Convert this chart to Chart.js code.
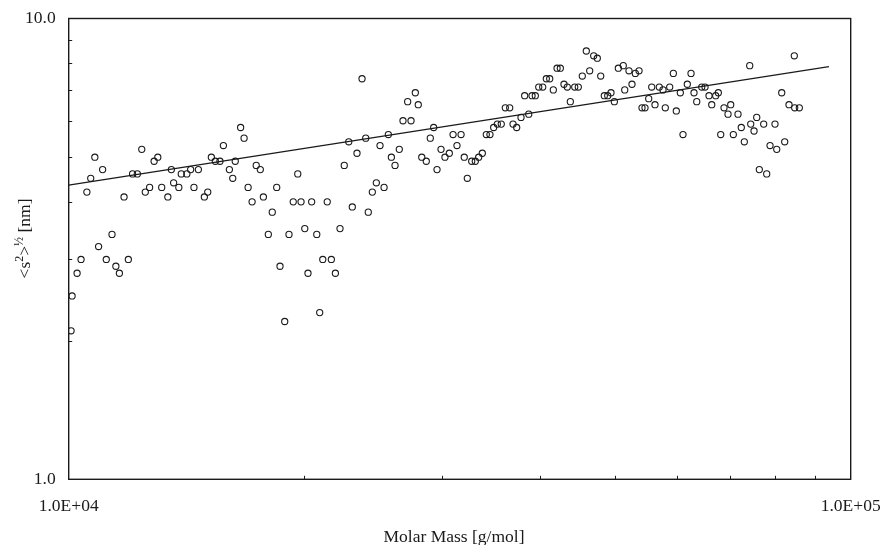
<!DOCTYPE html>
<html><head><meta charset="utf-8">
<script src="https://cdn.jsdelivr.net/npm/chart.js@4/dist/chart.umd.min.js"></script>
<style>html,body{margin:0;padding:0;background:#fff}#wrap{width:882px;height:545px}</style>
</head><body><div id="wrap"><canvas id="c" width="882" height="545"></canvas></div>
<script>
// Molar mass [g/mol] of each measured slice
const molarMass = [10070,10100,10250,10370,10550,10670,10800,10920,11050,11170,
11360,11490,11610,11770,11920,12070,12240,12400,12530,12690,
12860,13000,13150,13390,13530,13620,13830,13930,14160,14320,
14460,14650,14910,15060,15220,15400,15610,15770,16050,16210,
16330,16590,16760,16960,17160,17370,17580,17740,18000,18210,
18450,18630,18890,19130,19370,19630,19820,20040,20230,20450,
20760,20940,21130,21410,21670,21930,22230,22510,22810,23050,
23370,23720,23980,24160,24450,24740,25010,25310,25630,25860,
26140,26470,26760,27130,27400,27750,27990,28280,28660,29000,
29290,29580,29930,30280,30670,31010,31370,31750,32050,32340,
32760,33110,33440,33800,34200,34570,34950,35330,35740,36170,
36640,37000,37400,37880,38290,38750,39130,39510,39910,40380,
40810,41220,41660,42120,42530,42990,43410,43800,44370,44840,
45370,45910,46370,46920,47420,47900,48410,48900,49370,49860,
50450,51190,51410,52060,52520,53040,53620,54090,54570,55170,
55660,56200,56920,57540,57930,58690,59320,59840,60550,61030,
61810,62490,63040,63550,64490,65120,65890,66420,67200,67720,
68200,68870,69680,70240,70780,71760,72460,73110,74280,74500,
75230,75830,76410,77400,78090,78860,80020,80430,81620,82340,
83390,84700,84800,85960];
// RMS radius <s^2>^1/2 [nm]
const rmsRadius = [2.1,2.5,2.8,3.0,4.2,4.5,5.0,3.2,4.7,3.0,
3.4,2.9,2.8,4.1,3.0,4.6,4.6,5.2,4.2,4.3,
4.9,5.0,4.3,4.1,4.7,4.4,4.3,4.6,4.6,4.7,
4.3,4.7,4.1,4.2,5.0,4.9,4.9,5.3,4.7,4.5,
4.9,5.8,5.5,4.3,4.0,4.8,4.7,4.1,3.4,3.8,
4.3,2.9,2.2,3.4,4.0,4.6,4.0,3.5,2.8,4.0,
3.4,2.3,3.0,4.0,3.0,2.8,3.5,4.8,5.4,3.9,
5.1,7.4,5.5,3.8,4.2,4.4,5.3,4.3,5.6,5.0,
4.8,5.2,6.0,6.6,6.0,6.9,6.5,5.0,4.9,5.5,
5.8,4.7,5.2,5.0,5.1,5.6,5.3,5.6,5.0,4.5,
4.9,4.9,5.0,5.1,5.6,5.6,5.8,5.9,5.9,6.4,
6.4,5.9,5.8,6.1,6.8,6.2,6.8,6.8,7.1,7.1,
7.4,7.4,7.0,7.8,7.8,7.2,7.1,6.6,7.1,7.1,
7.5,8.5,7.7,8.3,8.2,7.5,6.8,6.8,6.9,6.6,
7.8,7.9,7.0,7.7,7.2,7.6,7.7,6.4,6.4,6.7,
7.1,6.5,7.1,7.0,6.4,7.1,7.6,6.3,6.9,5.6,
7.2,7.6,6.9,6.6,7.1,7.1,6.8,6.5,6.8,6.9,
5.6,6.4,6.2,6.5,5.6,6.2,5.8,5.4,7.9,5.9,
5.7,6.1,4.7,5.9,4.6,5.3,5.9,5.2,6.9,5.4,
6.5,8.3,6.4,6.4];
// Power-law fit line end points
const fitMass = [10000, 93800];
const fitRadius = [4.35, 7.86];
// Axis tick values
const xMajorTicks = [10000, 100000];
const xMajorLabels = ['1.0E+04', '1.0E+05'];
const yMajorTicks = [1, 10];
const yMajorLabels = ['1.0', '10.0'];
const xMinorTicks = [20000,30000,40000,50000,60000,70000,80000,90000];
const yMinorTicks = [2,3,4,5,6,7,8,9];
const xTitle = 'Molar Mass [g/mol]';

const FONT = 'Liberation Serif, "Times New Roman", serif';
const INK = '#1a1a1a';

const points = molarMass.map((m,i)=>({x:m, y:rmsRadius[i]}));
const fit = fitMass.map((m,i)=>({x:m, y:fitRadius[i]}));

const decor = {
  id:'decor',
  afterDatasetsDraw(chart){
    const {ctx, chartArea:a, scales:{x,y}} = chart;
    ctx.save();
    ctx.strokeStyle = INK; ctx.lineWidth = 1.4;
    ctx.strokeRect(a.left, a.top, a.right-a.left, a.bottom-a.top);
    ctx.lineWidth = 1;
    xMinorTicks.forEach(v=>{const p=Math.round(x.getPixelForValue(v))+0.5;ctx.beginPath();ctx.moveTo(p,a.bottom);ctx.lineTo(p,a.bottom-3.5);ctx.stroke();});
    yMinorTicks.forEach(v=>{const p=Math.round(y.getPixelForValue(v))+0.5;ctx.beginPath();ctx.moveTo(a.left,p);ctx.lineTo(a.left+3.5,p);ctx.stroke();});
    // x title
    ctx.fillStyle = INK;
    ctx.font = '17.5px ' + FONT;
    ctx.textAlign = 'center'; ctx.textBaseline = 'middle';
    ctx.fillText(xTitle, 454, 537);
    // y title with superscripts, rotated
    const parts = [['<s',false],['2',true],['>',false],['\u00BD',true],[' [nm]',false]];
    const big = '17.5px ' + FONT, small = '12px ' + FONT;
    let total = 0;
    parts.forEach(([t,s])=>{ctx.font = s?small:big; total += ctx.measureText(t).width;});
    ctx.translate(30, 238.5);
    ctx.rotate(-Math.PI/2);
    ctx.textAlign = 'left'; ctx.textBaseline = 'alphabetic';
    let cx = -total/2;
    parts.forEach(([t,s])=>{ctx.font = s?small:big; ctx.fillText(t, cx, s?-7:0); cx += ctx.measureText(t).width;});
    ctx.restore();
  }
};

new Chart(document.getElementById('c'), {
  type:'scatter',
  data:{datasets:[
    {data:points, pointStyle:'circle', pointRadius:3.1, pointBorderWidth:1.1,
     borderColor:INK, pointBackgroundColor:'rgba(0,0,0,0)', backgroundColor:'rgba(0,0,0,0)', showLine:false},
    {data:fit, showLine:true, pointRadius:0, borderColor:INK, borderWidth:1.2, fill:false}
  ]},
  options:{
    responsive:false, animation:false, devicePixelRatio:1,
    layout:{padding:{left:0, top:18.5, right:31.3, bottom:0}},
    plugins:{legend:{display:false}, tooltip:{enabled:false}},
    scales:{
      x:{type:'logarithmic', min:10000, max:100000,
        afterBuildTicks(s){s.ticks = xMajorTicks.map(v=>({value:v}));},
        afterFit(s){s.height = 65.7; s.paddingLeft = 0; s.paddingRight = 0;},
        grid:{display:false, drawTicks:false}, border:{display:false},
        ticks:{autoSkip:false, maxRotation:0, padding:16.5, color:INK, font:{family:FONT, size:17.5},
          callback(v){const i = xMajorTicks.indexOf(v); return i>=0 ? xMajorLabels[i] : '';}}
      },
      y:{type:'logarithmic', min:1, max:10,
        afterBuildTicks(s){s.ticks = yMajorTicks.map(v=>({value:v}));},
        afterFit(s){s.width = 68.7; s.paddingTop = 0; s.paddingBottom = 0;},
        grid:{display:false, drawTicks:false}, border:{display:false},
        ticks:{autoSkip:false, padding:13, color:INK, font:{family:FONT, size:17.5},
          callback(v){const i = yMajorTicks.indexOf(v); return i>=0 ? yMajorLabels[i] : '';}}
      }
    }
  },
  plugins:[decor]
});
</script></body></html>
